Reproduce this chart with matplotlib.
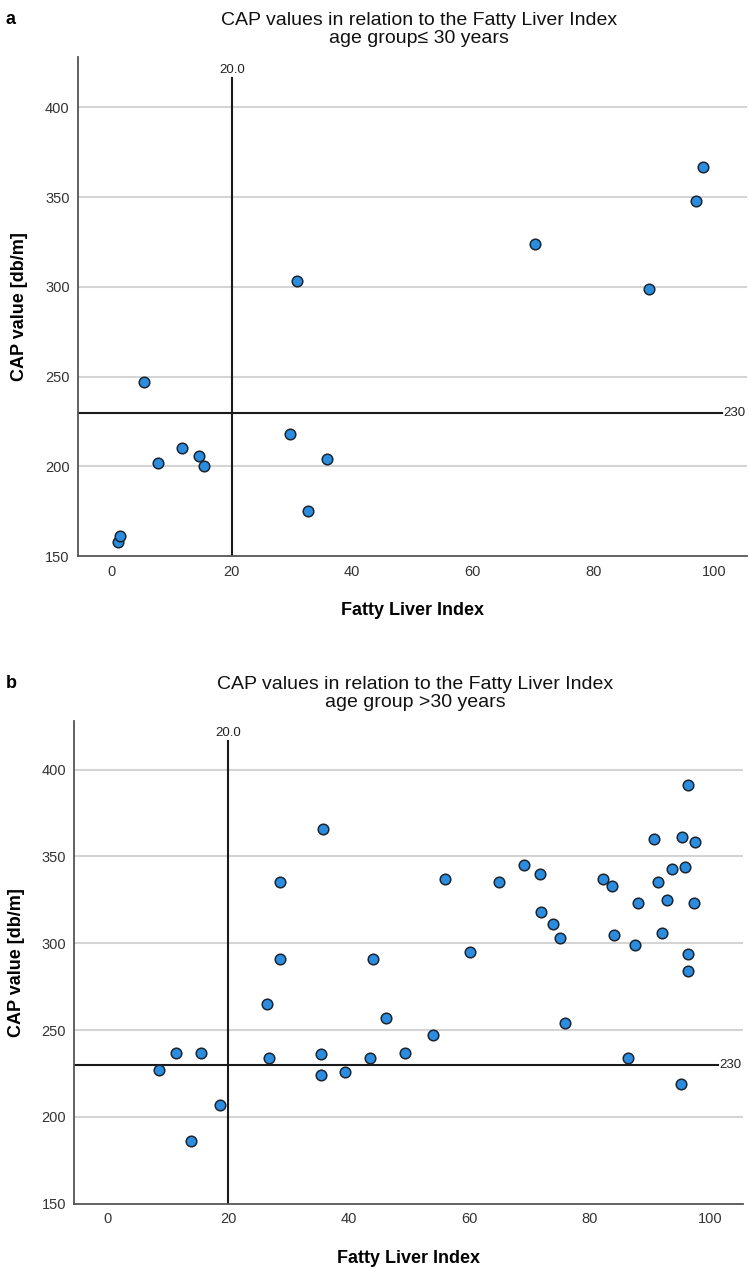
import numpy as np
import matplotlib.pyplot as plt

plt.rcParams['font.family'] = ['Liberation Sans', 'DejaVu Sans']

# panel a: age group <= 30 years
fli_young = [1.1, 1.4, 5.4, 7.8, 11.7, 14.5, 15.4, 29.7, 30.8, 32.7, 35.8,
             70.4, 89.2, 97.0, 98.2]
cap_young = [158, 161, 247, 202, 210, 206, 200, 218, 303, 175, 204,
             324, 299, 348, 367]

# panel b: age group > 30 years
fli_old = [8.5, 11.3, 13.8, 15.5, 18.7, 26.5, 26.8, 28.6, 28.7, 35.4, 35.4,
           35.7, 39.4, 43.5, 44.0, 46.3, 49.4, 54.0, 56.0, 60.2, 64.9, 69.1,
           71.8, 71.9, 73.9, 75.1, 75.9, 82.2, 83.7, 84.0, 86.4, 87.5, 88.1,
           90.7, 91.3, 92.0, 92.9, 93.6, 95.2, 95.4, 95.8, 96.3, 96.4, 96.4,
           97.4, 97.5]
cap_old = [227, 237, 186, 237, 207, 265, 234, 291, 335, 236, 224,
           366, 226, 234, 291, 257, 237, 247, 337, 295, 335, 345,
           340, 318, 311, 303, 254, 337, 333, 305, 234, 299, 323,
           360, 335, 306, 325, 343, 219, 361, 344, 391, 294, 284,
           323, 358]

FLI_CUT = 20.0
CAP_CUT = 230
Y_TICKS = [150, 200, 250, 300, 350, 400]
X_TICKS = [0, 20, 40, 60, 80, 100]

fig = plt.figure(figsize=(7.5, 12.67), dpi=100)

panels = [
    ('a', 'CAP values in relation to the Fatty Liver Index\nage group\u2264 30 years',
     fli_young, cap_young, [0.104, 0.561, 0.892, 0.394]),
    ('b', 'CAP values in relation to the Fatty Liver Index\nage group >30 years',
     fli_old, cap_old, [0.099, 0.050, 0.892, 0.381]),
]

for letter, title, xs, ys, rect in panels:
    ax = fig.add_axes(rect)
    ax.set_xlim(-5.5, 105.5)
    ax.set_ylim(150, 428)

    # gridlines
    for yv in Y_TICKS[1:]:
        ax.axhline(yv, color='#d4d4d4', lw=1.5, zorder=0)

    # reference lines
    ax.plot([FLI_CUT, FLI_CUT], [150, 416.5], color='#1a1a1a', lw=1.5, zorder=1)
    ax.text(FLI_CUT, 417.5, f'{FLI_CUT:.1f}', ha='center', va='bottom',
            fontsize=9.5, color='#222222')
    ax.plot([-5.5, 101.3], [CAP_CUT, CAP_CUT], color='#1a1a1a', lw=1.5, zorder=1)
    ax.text(101.5, CAP_CUT, f'{CAP_CUT}', ha='left', va='center',
            fontsize=9.5, color='#222222', clip_on=False)

    ax.scatter(xs, ys, s=58, c='#2a8de0', edgecolors='#1c2530',
               linewidths=1.1, zorder=3, clip_on=False)

    for s in ['top', 'right']:
        ax.spines[s].set_visible(False)
    for s in ['left', 'bottom']:
        ax.spines[s].set_color('#555555')
        ax.spines[s].set_linewidth(1.3)

    ax.set_xticks(X_TICKS)
    ax.set_yticks(Y_TICKS)
    ax.tick_params(length=0, labelsize=10.5, labelcolor='#333333', pad=6)
    ax.set_xlabel('Fatty Liver Index', fontsize=13, fontweight='bold',
                  labelpad=17)
    ax.set_ylabel('CAP value [db/m]', fontsize=13, fontweight='bold',
                  labelpad=12)
    ax.set_title(title, fontsize=14, pad=10, linespacing=1.1,
                 color='#111111', x=0.51)

    pos = ax.get_position()
    fig.text(0.008, pos.y1 + 0.036, letter, fontsize=13, fontweight='bold',
             va='top')

fig.savefig('out.png', dpi=100)
